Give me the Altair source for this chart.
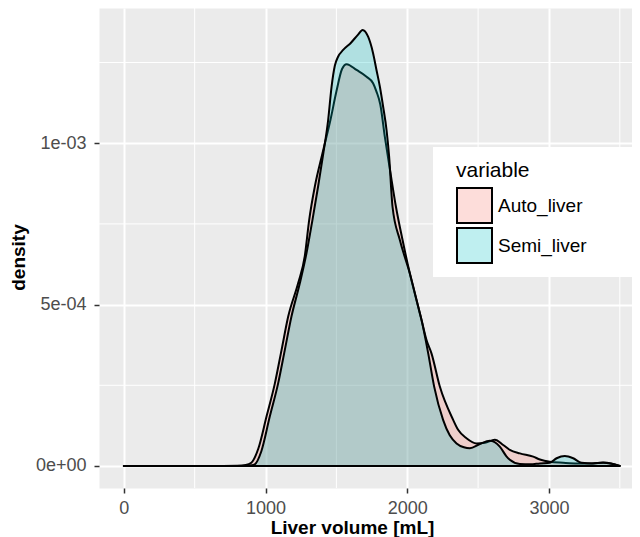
import altair as alt
import pandas as pd

# ---- data (density in units of 1e-4) ----
series_names = ["Auto_liver", "Semi_liver"]

auto_x = [0, 600, 800, 860, 900, 950, 1007, 1066, 1113, 1160, 1230, 1277, 1308, 1348,
          1402, 1458, 1500, 1540, 1572, 1642, 1713, 1759, 1783, 1810, 1842, 1882, 1920,
          1967, 2018, 2077, 2101, 2136, 2171, 2230, 2324, 2359, 2418, 2489, 2548, 2618,
          2677, 2724, 2795, 2889, 2936, 3006, 3100, 3200, 3300, 3382, 3440, 3500]
auto_d = [0, 0, 0.01, 0.03, 0.10, 0.55, 1.53, 2.56, 3.59, 4.63, 5.66, 6.50, 7.62, 8.66,
          9.69, 10.72, 11.60, 12.30, 12.45, 12.27, 12.06, 11.86, 11.60, 11.20, 10.20, 9.07, 8.04,
          7.00, 5.97, 4.94, 4.52, 3.90, 3.49, 2.46, 1.43, 1.12, 0.86, 0.70, 0.72, 0.81,
          0.65, 0.50, 0.39, 0.29, 0.20, 0.13, 0.10, 0.08, 0.08, 0.11, 0.08, 0.0]

semi_x = [0, 600, 850, 900, 924, 970, 1030, 1089, 1136, 1183, 1242, 1289, 1331, 1371,
          1410, 1442, 1466, 1489, 1512, 1548, 1600, 1650, 1685, 1724, 1759, 1783, 1807,
          1830, 1854, 1872, 1896, 1948, 2018, 2077, 2101, 2148, 2190, 2253, 2300, 2348,
          2400, 2442, 2512, 2583, 2653, 2700, 2724, 2795, 2870, 2936, 3006, 3054, 3112,
          3171, 3230, 3312, 3382, 3440, 3500]
semi_d = [0, 0, 0.0, 0.02, 0.05, 0.45, 1.53, 2.56, 3.59, 4.63, 5.66, 6.59, 7.62, 8.66,
          9.75, 10.72, 11.75, 12.40, 12.68, 12.89, 13.10, 13.35, 13.51, 13.30, 12.79, 12.27, 11.75,
          11.13, 10.41, 9.60, 8.04, 7.00, 5.97, 4.94, 4.52, 3.49, 2.46, 1.43, 0.95, 0.70,
          0.58, 0.55, 0.68, 0.78, 0.60, 0.30, 0.19, 0.06, 0.05, 0.08, 0.10, 0.24, 0.31,
          0.24, 0.10, 0.08, 0.10, 0.07, 0.0]

fill_colors = ["rgba(248,118,109,0.25)", "rgba(0,191,196,0.25)"]

x_major = [0, 1000, 2000, 3000]
x_minor = [500, 1500, 2500, 3500]
y_major = [0, 0.0005, 0.001]
y_major_labels = ["0e+00", "5e-04", "1e-03"]
y_minor = [0.00025, 0.00075, 0.00125]

rows = []
for name, xs, ds in [(series_names[0], auto_x, auto_d), (series_names[1], semi_x, semi_d)]:
    for xv, dv in zip(xs, ds):
        rows.append({"volume": xv, "density": dv * 1e-4, "variable": name})
df = pd.DataFrame(rows)

FONT = "Liberation Sans"

label_expr = " : ".join(
    f"datum.value == {v} ? '{l}'" for v, l in zip(y_major[:-1], y_major_labels[:-1])
) + f" : '{y_major_labels[-1]}'"

x_scale = alt.Scale(domain=[-175, 3586], nice=False, zero=False)
y_scale = alt.Scale(domain=[-0.0000682, 0.001419], nice=False, zero=False)

x_axis = alt.Axis(values=x_major, format="d", title="Liver volume [mL]", labelFontSize=18,
                  labelColor="#4D4D4D", labelFont=FONT, tickColor="#333333", tickWidth=1.5,
                  tickSize=5, labelPadding=6, domain=False, grid=True, gridColor="white",
                  gridWidth=2, titleFontSize=19, titleFont=FONT, titleFontWeight="bold",
                  titleColor="black", titleX=253, titleY=45, titleAlign="center",
                  titleBaseline="alphabetic")
y_axis = alt.Axis(values=y_major, labelExpr=label_expr, title="density", labelFontSize=18,
                  labelColor="#4D4D4D", labelFont=FONT, tickColor="#333333", tickWidth=1.5,
                  tickSize=5, labelPadding=8, domain=False, grid=True, gridColor="white",
                  gridWidth=2, titleFontSize=19, titleFont=FONT, titleFontWeight="bold",
                  titleColor="black", titleX=-81, titleY=249, titleAngle=270,
                  titleAlign="center", titleBaseline="middle")

X = alt.X("volume:Q", scale=x_scale, axis=x_axis)
Y = alt.Y("density:Q", scale=y_scale, axis=y_axis, stack=None)

minor_x = alt.Chart(pd.DataFrame({"volume": x_minor})).mark_rule(
    color="white", strokeWidth=1).encode(x=X)
minor_y = alt.Chart(pd.DataFrame({"density": y_minor})).mark_rule(
    color="white", strokeWidth=1).encode(y=Y)

# white background box of the inside legend
legend_box = alt.Chart(pd.DataFrame({"k": [0]})).mark_rect(color="white").encode(
    x=alt.value(334), x2=alt.value(533), y=alt.value(139), y2=alt.value(269))

areas = alt.Chart(df).mark_area(
    stroke="black", strokeWidth=2, interpolate="monotone", strokeJoin="round"
).encode(
    x=X,
    y=Y,
    fill=alt.Fill("variable:N", sort=series_names,
                  scale=alt.Scale(domain=series_names, range=fill_colors),
                  legend=alt.Legend(title="variable", orient="none", legendX=357, legendY=152,
                                    padding=0, symbolType="square",
                                    symbolSize=1225, symbolStrokeColor="black",
                                    symbolStrokeWidth=2, labelFontSize=19, labelFont=FONT,
                                    labelColor="black", titleFontSize=21, titleFont=FONT,
                                    titleFontWeight="normal", titleColor="black",
                                    titlePadding=6, labelOffset=5, rowPadding=-8)),
)

chart = alt.layer(minor_x, minor_y, legend_box, areas).properties(
    width=533, height=480,
    autosize=alt.AutoSizeParams(type="none"),
    padding={"left": 91, "top": 0, "right": 0, "bottom": 49},
).configure_view(fill="#EBEBEB", stroke="transparent")

chart.save("out.html", embed_options={"renderer": "svg", "actions": False})
